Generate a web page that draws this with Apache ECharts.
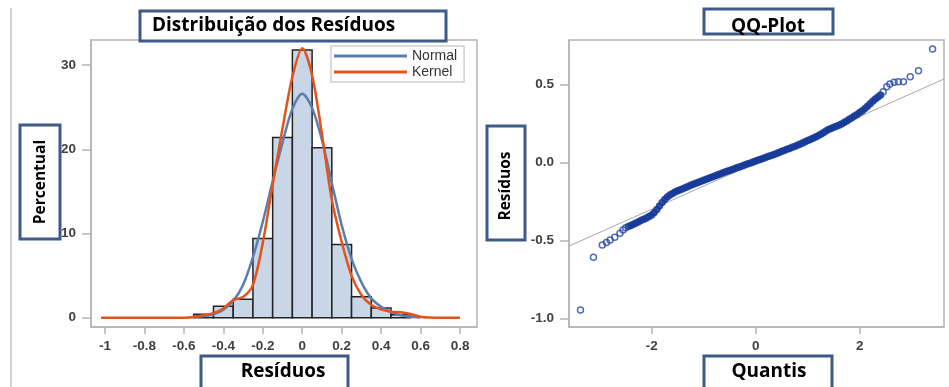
<!DOCTYPE html>
<html>
<head>
<meta charset="utf-8">
<script src="https://cdn.jsdelivr.net/npm/echarts@6/dist/echarts.min.js"></script>
<style>
  html, body { margin: 0; padding: 0; background: #fff; }
  #main { width: 949px; height: 387px; }
</style>
</head>
<body>
<div id="main"></div>
<script>
// histograma (percentual por classe de 0.1)
var classes = [-0.5, -0.4, -0.3, -0.2, -0.1, 0, 0.1, 0.2, 0.3, 0.4, 0.5];
var percentual = [0.4, 1.35, 2.2, 9.4, 21.4, 31.8, 20.2, 8.7, 2.5, 1.15, 0.35];
var larguraClasse = 0.1;

// curva normal
var normalX = [-0.55, -0.5, -0.45, -0.4, -0.35, -0.3, -0.25, -0.2, -0.15, -0.1, -0.05, 0,
               0.05, 0.1, 0.15, 0.2, 0.25, 0.3, 0.35, 0.4, 0.45, 0.5, 0.55, 0.6];
var normalY = [0.1, 0.2, 0.4, 0.95, 2.0, 3.9, 7.2, 11.4, 16.2, 20.8, 24.8, 26.6,
               24.9, 21.1, 16.0, 11.0, 7.0, 4.2, 2.3, 1.3, 0.7, 0.3, 0.12, 0.04];

// curva kernel
var kernelX = [-1.02, -0.6, -0.55, -0.5, -0.45, -0.4, -0.35, -0.3, -0.25, -0.2, -0.15, -0.1, -0.05, 0,
               0.05, 0.1, 0.15, 0.2, 0.25, 0.3, 0.35, 0.4, 0.45, 0.5, 0.55, 0.6, 0.65, 0.7, 0.8];
var kernelY = [0, 0, 0.1, 0.3, 0.55, 1.1, 2.1, 2.45, 3.9, 8.9, 15.8, 22.5, 28.6, 32,
               28.8, 21.8, 14.0, 9.0, 5.0, 2.7, 1.5, 1.0, 0.7, 0.65, 0.45, 0.12, 0.02, 0, 0];

var histXTicks = [-1, -0.8, -0.6, -0.4, -0.2, 0, 0.2, 0.4, 0.6, 0.8];
var histYTicks = [0, 10, 20, 30];

// QQ-plot: caudas (pontos isolados)
var caudaQuantis = [-3.37, -3.12, -2.95, -2.87, -2.80, -2.71, -2.61, -2.55, -2.50,
                    2.45, 2.52, 2.58, 2.66, 2.74, 2.84, 2.97, 3.13, 3.40];
var caudaResiduos = [-0.947, -0.609, -0.530, -0.515, -0.498, -0.481, -0.455, -0.434, -0.420,
                     0.453, 0.485, 0.502, 0.513, 0.517, 0.517, 0.549, 0.587, 0.726];

// QQ-plot: faixa central
var centroQuantis = [-2.45, -2.40, -2.35, -2.30, -2.25, -2.20, -2.15, -2.10, -2.05, -2.00,
  -1.95, -1.90, -1.85, -1.80, -1.75, -1.70, -1.65, -1.60, -1.55, -1.50,
  -1.45, -1.40, -1.35, -1.30, -1.25, -1.20, -1.15, -1.10, -1.05, -1.00,
  -0.95, -0.90, -0.85, -0.80, -0.75, -0.70, -0.65, -0.60, -0.55, -0.50,
  -0.45, -0.40, -0.35, -0.30, -0.25, -0.20, -0.15, -0.10, -0.05, 0.00,
  0.05, 0.10, 0.15, 0.20, 0.25, 0.30, 0.35, 0.40, 0.45, 0.50,
  0.55, 0.60, 0.65, 0.70, 0.75, 0.80, 0.85, 0.90, 0.95, 1.00,
  1.05, 1.10, 1.15, 1.20, 1.25, 1.30, 1.35, 1.40, 1.45, 1.50,
  1.55, 1.60, 1.65, 1.70, 1.75, 1.80, 1.85, 1.90, 1.95, 2.00,
  2.05, 2.10, 2.15, 2.20, 2.25, 2.30, 2.35, 2.40];
var centroResiduos = [-0.412, -0.405, -0.398, -0.390, -0.381, -0.372, -0.365, -0.357, -0.348, -0.338,
  -0.322, -0.303, -0.280, -0.258, -0.238, -0.222, -0.210, -0.200, -0.191, -0.183,
  -0.176, -0.169, -0.162, -0.155, -0.148, -0.141, -0.134, -0.128, -0.121, -0.115,
  -0.108, -0.102, -0.096, -0.090, -0.083, -0.077, -0.071, -0.064, -0.058, -0.052,
  -0.046, -0.040, -0.034, -0.028, -0.022, -0.016, -0.010, -0.004, 0.002, 0.008,
  0.014, 0.020, 0.026, 0.032, 0.038, 0.044, 0.050, 0.057, 0.063, 0.070,
  0.076, 0.083, 0.089, 0.096, 0.102, 0.109, 0.116, 0.123, 0.131, 0.139,
  0.146, 0.154, 0.162, 0.170, 0.179, 0.190, 0.201, 0.210, 0.217, 0.224,
  0.231, 0.237, 0.245, 0.255, 0.265, 0.276, 0.286, 0.296, 0.307, 0.319,
  0.331, 0.345, 0.360, 0.376, 0.391, 0.405, 0.418, 0.432];

// reta de referencia
var retaQuantis = [-3.59, 3.62];
var retaResiduos = [-0.537, 0.534];

var qqXTicks = [-2, 0, 2];
var qqYTicks = [-1.0, -0.5, 0.0, 0.5];

function zip(a, b) {
    var out = [];
    for (var i = 0; i < a.length; i++) out.push([a[i], b[i]]);
    return out;
}

var frameColor = '#b4b4b4';
var boxColor = '#3d5b86';
var labelStyle = {
    fontFamily: 'Liberation Sans, Arial, sans-serif',
    fontSize: 13.5,
    fontWeight: 'bold',
    color: '#404040'
};

function axisCommon(ticks, margin, tickLen, fmt) {
    return {
        axisLine: { show: true, onZero: false, lineStyle: { color: frameColor, width: 1.5 } },
        axisTick: { show: true, length: tickLen, lineStyle: { color: frameColor, width: 1.5 }, customValues: ticks },
        axisLabel: Object.assign({ customValues: ticks, margin: margin, formatter: fmt }, labelStyle),
        splitLine: { show: false }
    };
}

function boxLabel(x, y, w, h, text, tx, ty, rot, align, size) {
    return {
        type: 'group',
        children: [
            { type: 'rect', shape: { x: x, y: y, width: w, height: h },
              style: { fill: '#fff', stroke: boxColor, lineWidth: 3 }, z: 100 },
            { type: 'text', x: tx, y: ty, rotation: rot || 0, z: 101,
              style: { text: text, fill: '#000', align: align || 'center', verticalAlign: 'middle',
                       font: 'bold ' + (size || 19) + 'px "Open Sans", sans-serif' } }
        ]
    };
}

var chart = echarts.init(document.getElementById('main'));

var option = {
    animation: false,
    backgroundColor: '#fff',
    grid: [
        { left: 91, top: 40, width: 386, height: 287, show: true, borderColor: frameColor, borderWidth: 1.5 },
        { left: 569, top: 40, width: 375, height: 287, show: true, borderColor: frameColor, borderWidth: 1.5 }
    ],
    xAxis: [
        Object.assign({ type: 'value', gridIndex: 0, min: -1.071, max: 0.886 }, axisCommon(histXTicks, 12, 7)),
        Object.assign({ type: 'value', gridIndex: 1, min: -3.59, max: 3.62 }, axisCommon(qqXTicks, 12, 7))
    ],
    yAxis: [
        Object.assign({ type: 'value', gridIndex: 0, min: -1.1, max: 32.98 }, axisCommon(histYTicks, 15, 9)),
        Object.assign({ type: 'value', gridIndex: 1, min: -1.056, max: 0.784 },
            axisCommon(qqYTicks, 15, 9, function (v) { return v.toFixed(1); }))
    ],
    legend: {
        data: ['Normal', 'Kernel'],
        icon: 'rect',
        orient: 'vertical',
        left: 331,
        top: 46,
        itemWidth: 73,
        itemHeight: 3,
        itemGap: 2,
        padding: [3, 7, 3, 3],
        borderColor: '#cfcfcf',
        borderWidth: 1.5,
        backgroundColor: '#fff',
        textStyle: { fontFamily: 'Liberation Sans, Arial, sans-serif', fontSize: 14, color: '#333' }
    },
    series: [
        {
            name: 'Histograma',
            type: 'custom',
            xAxisIndex: 0,
            yAxisIndex: 0,
            encode: { x: 0, y: 1 },
            data: zip(classes, percentual),
            renderItem: function (params, api) {
                var c = api.value(0), h = api.value(1);
                var p0 = api.coord([c - larguraClasse / 2, h]);
                var p1 = api.coord([c + larguraClasse / 2, 0]);
                return {
                    type: 'rect',
                    shape: { x: p0[0], y: p0[1], width: p1[0] - p0[0], height: p1[1] - p0[1] },
                    style: { fill: '#c9d6e8', stroke: '#222', lineWidth: 1.5 }
                };
            }
        },
        {
            name: 'Normal',
            type: 'line',
            xAxisIndex: 0,
            yAxisIndex: 0,
            data: zip(normalX, normalY),
            smooth: 0.3,
            symbol: 'none',
            lineStyle: { color: '#5b7db0', width: 2.5 },
            itemStyle: { color: '#5b7db0' }
        },
        {
            name: 'Kernel',
            type: 'line',
            xAxisIndex: 0,
            yAxisIndex: 0,
            data: zip(kernelX, kernelY),
            smooth: 0.3,
            symbol: 'none',
            lineStyle: { color: '#e5531b', width: 2.5 },
            itemStyle: { color: '#e5531b' }
        },
        {
            name: 'Referencia',
            type: 'line',
            xAxisIndex: 1,
            yAxisIndex: 1,
            z: 1,
            data: zip(retaQuantis, retaResiduos),
            symbol: 'none',
            lineStyle: { color: '#a8a8a8', width: 1 },
            silent: true
        },
        {
            name: 'Centro',
            type: 'scatter',
            xAxisIndex: 1,
            yAxisIndex: 1,
            z: 3,
            data: zip(centroQuantis, centroResiduos),
            symbol: 'circle',
            symbolSize: 6,
            itemStyle: { color: '#173a98', borderColor: '#173a98', borderWidth: 1.5 }
        },
        {
            name: 'Caudas',
            type: 'scatter',
            xAxisIndex: 1,
            yAxisIndex: 1,
            z: 3,
            data: zip(caudaQuantis, caudaResiduos),
            symbol: 'circle',
            symbolSize: 6,
            itemStyle: { color: 'rgba(0,0,0,0)', borderColor: '#2448a6', borderWidth: 1.5 }
        }
    ],
    graphic: [
        { type: 'line', shape: { x1: 11, y1: 8, x2: 11, y2: 387 }, style: { stroke: '#d4d4d4', lineWidth: 2 } },
        boxLabel(140, 11, 306, 30, 'Distribuição dos Resíduos', 152, 26, 0, 'left', 19),
        boxLabel(20, 125, 40, 114, 'Percentual', 41, 182, Math.PI / 2, 'center', 15.5),
        boxLabel(201, 356, 147, 40, 'Resíduos', 283, 372, 0, 'center', 19),
        boxLabel(704, 9, 129, 25, 'QQ-Plot', 768, 27, 0, 'center', 19),
        boxLabel(487, 126, 38, 114, 'Resíduos', 506, 186, Math.PI / 2, 'center', 15.5),
        boxLabel(704, 356, 128, 40, 'Quantis', 769, 372, 0, 'center', 19)
    ]
};

chart.setOption(option);
</script>
</body>
</html>
